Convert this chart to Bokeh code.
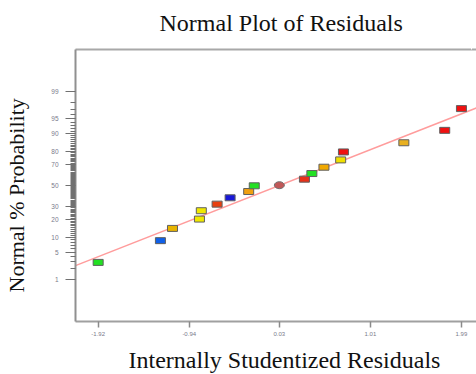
from statistics import NormalDist
from bokeh.plotting import figure
from bokeh.models import (Range1d, FixedTicker, LinearAxis, Title,
                          PrintfTickFormatter, ColumnDataSource)
from bokeh.embed import file_html
from bokeh.resources import INLINE

# ---- data ----
residuals = [-1.92, -1.25, -1.12, -0.83, -0.81, -0.64, -0.50, -0.30, -0.24,
             0.03, 0.30, 0.38, 0.51, 0.69, 0.72, 1.37, 1.81, 1.99]
probability = [2.9, 8.7, 14.5, 20.4, 26.7, 32.3, 38.1, 44.1, 49.7,
               50.3, 56.2, 61.6, 67.4, 73.6, 79.6, 85.4, 91.3, 97.1]
point_colors = ["#22e022", "#1060e8", "#e8b400", "#f0e800", "#f0e800",
                "#e84010", "#1818d8", "#f0a010", "#22e022", "#c05858",
                "#e83018", "#22e022", "#f0a800", "#f0e000", "#f01010",
                "#e8b020", "#f01010", "#f01010"]
point_shape = ["rect"] * 9 + ["ellipse"] + ["rect"] * 8

x_ticks = [-1.92, -0.94, 0.03, 1.01, 1.99]
y_tick_pct = [1, 5, 10, 20, 30, 50, 70, 80, 90, 95, 99]
y_minor_pct = [2, 3, 4] + list(range(5, 96)) + [96, 97, 98]

fit_mean = 0.03
fit_sd = 1.11

title_text = "Normal Plot of Residuals"
x_label_text = "Internally Studentized Residuals"
y_label_text = "Normal % Probability"

x_lo, x_hi = -2.164, 2.152
y_lo_pct, y_hi_pct = 0.04, 99.96

nd = NormalDist()
z = [nd.inv_cdf(p / 100.0) for p in probability]
z_major = [nd.inv_cdf(p / 100.0) for p in y_tick_pct]
z_minor = [nd.inv_cdf(p / 100.0) for p in y_minor_pct]
y_lo, y_hi = nd.inv_cdf(y_lo_pct / 100), nd.inv_cdf(y_hi_pct / 100)

SERIF = "Liberation Serif"
SANS = "Liberation Sans"

p = figure(width=476, height=374, output_backend="svg", toolbar_location=None,
           x_range=Range1d(x_lo, x_hi), y_range=Range1d(y_lo, y_hi),
           min_border_left=75, min_border_right=0, min_border_top=49,
           min_border_bottom=53, x_axis_location=None, y_axis_location=None)
p.xgrid.visible = False
p.ygrid.visible = False
p.outline_line_color = None
p.background_fill_color = "white"
p.border_fill_color = "white"

p.title.text = title_text
p.title.text_font = SERIF
p.title.text_font_size = "24px"
p.title.text_font_style = "normal"
p.title.text_color = "#111111"
p.title.align = "left"
p.title.offset = 84
p.title.standoff = 0
p.title.vertical_align = "bottom"


def spacer(size, at):
    # an invisible axis whose single white tick only reserves room in the border
    return LinearAxis(ticker=FixedTicker(ticks=[at]), major_label_overrides={at: ""},
                      major_label_text_font_size="6px", major_label_standoff=0,
                      major_tick_out=size, major_tick_in=0, minor_tick_out=0, minor_tick_in=0,
                      major_tick_line_color="white", axis_line_color=None)


# top frame line
top_axis = LinearAxis(ticker=FixedTicker(ticks=[]), major_label_text_font_size="0px",
                      major_tick_out=0, major_tick_in=0, minor_tick_out=0, minor_tick_in=0,
                      axis_line_color="#a8a8a8", axis_line_width=2)
p.add_layout(top_axis, "above")
p.add_layout(spacer(14, x_hi - 0.05), "above")

# bottom axis
x_axis = LinearAxis(ticker=FixedTicker(ticks=x_ticks),
                    formatter=PrintfTickFormatter(format="%.2f"),
                    major_tick_out=6, major_tick_in=0, minor_tick_out=0, minor_tick_in=0,
                    axis_line_color="#a0a0a0", axis_line_width=2,
                    major_tick_line_color="#8a8a8a", major_tick_line_width=1.5,
                    major_label_text_font=SANS, major_label_text_font_size="6px",
                    major_label_text_color="#7a7a8a", major_label_standoff=4)
p.add_layout(x_axis, "below")
p.add_layout(spacer(6, x_hi - 0.05), "below")
p.add_layout(Title(text=x_label_text, align="left", offset=53, vertical_align="bottom",
                   text_font=SERIF, text_font_size="24px", text_font_style="normal",
                   text_color="#111111", standoff=0), "below")

# left axis
y_axis = LinearAxis(ticker=FixedTicker(ticks=z_major, minor_ticks=z_minor),
                    major_label_overrides={zv: str(pv) for zv, pv in zip(z_major, y_tick_pct)},
                    major_tick_out=10, major_tick_in=0, minor_tick_out=5, minor_tick_in=0,
                    axis_line_color="#909090", axis_line_width=2,
                    major_tick_line_color="#707070", minor_tick_line_color="#707070",
                    major_label_text_font=SANS, major_label_text_font_size="6.5px",
                    major_label_text_color="#7a7a8a", major_label_standoff=7)
p.add_layout(y_axis, "left")
p.add_layout(spacer(20, y_lo + 0.05), "left")
p.add_layout(Title(text=y_label_text, align="left", offset=29, vertical_align="bottom",
                   text_font=SERIF, text_font_size="22px", text_font_style="normal",
                   text_color="#111111", standoff=0), "left")

# fitted normal line
line_x = [x_lo, x_hi]
line_z = [(v - fit_mean) / fit_sd for v in line_x]
p.line(line_x, line_z, line_color="#ff9c9c", line_width=1.5)

rect_idx = [i for i, s in enumerate(point_shape) if s == "rect"]
ell_idx = [i for i, s in enumerate(point_shape) if s == "ellipse"]
rsrc = ColumnDataSource(dict(x=[residuals[i] for i in rect_idx], y=[z[i] for i in rect_idx],
                             c=[point_colors[i] for i in rect_idx]))
esrc = ColumnDataSource(dict(x=[residuals[i] for i in ell_idx], y=[z[i] for i in ell_idx],
                             c=[point_colors[i] for i in ell_idx]))
p.rect("x", "y", width=10, height=6, width_units="screen", height_units="screen",
       fill_color="c", line_color="#606060", line_width=1, source=rsrc)
p.ellipse("x", "y", width=10, height=7, width_units="screen", height_units="screen",
          fill_color="c", line_color="#707070", line_width=1, source=esrc)

open("out.html", "w").write(file_html(p, INLINE))
